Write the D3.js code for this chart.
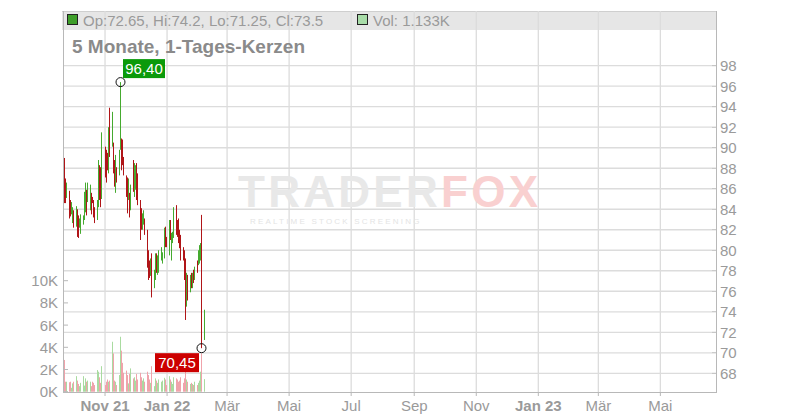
<!DOCTYPE html>
<html><head><meta charset="utf-8">
<script src="https://cdn.jsdelivr.net/npm/d3@7"></script>
<style>body{margin:0;background:#fff} svg{display:block;font-family:"Liberation Sans",Arial,sans-serif}</style>
</head><body><svg id="c" width="800" height="420"></svg>
<script>
// ---- data ----
const startDate = "2021-09-21", endDate = "2022-02-07"; // trading days (weekdays)
const open = [85.6,88.6,86.8,85.2,85.6,84.7,83.6,82.8,83.8,82.5,
 83.8,83.0,82.3,81.8,82.6,83.1,84.0,85.7,84.9,84.2,
 85.4,85.1,84.7,84.0,83.2,84.5,88.0,87.9,85.3,89.9,
 89.5,89.3,87.8,93.5,90.3,90.3,88.5,85.9,87.9,87.5,
 90.0,90.7,90.5,88.8,87.1,86.9,85.1,85.4,84.1,88.5,
 85.5,86.2,88.2,87.3,84.7,83.9,82.2,82.6,82.9,81.8,
 79.8,78.8,77.7,79.5,76.5,77.4,79.5,77.8,78.0,79.2,
 78.9,79.4,82.1,81.1,79.8,82.8,79.3,80.9,81.4,84.2,
 82.8,82.9,81.8,81.3,80.1,79.8,79.0,74.8,77.4,76.1,
 77.6,76.5,77.9,77.3,78.8,78.7,78.9,79.2,80.6,72.65];
const high = [88.3,89.0,87.0,86.6,85.8,84.9,84.7,84.2,83.9,84.3,
 84.0,83.4,83.1,83.5,83.4,85.7,86.6,85.9,86.6,86.4,
 85.6,85.2,84.9,84.2,84.9,88.8,88.3,88.1,91.5,90.1,
 89.8,89.5,92.0,93.9,93.5,90.5,88.8,89.3,88.1,89.8,
 96.4,90.9,90.8,89.1,87.3,87.1,87.0,85.6,86.4,88.8,
 88.5,88.3,88.5,87.5,84.9,84.1,83.6,83.9,83.1,82.0,
 80.0,79.0,79.2,79.7,78.1,79.7,79.7,79.5,80.0,80.3,
 79.8,82.2,82.3,81.3,82.95,82.95,81.7,81.8,84.2,84.4,
 82.95,83.1,82.0,81.5,80.3,80.0,79.2,77.8,77.6,77.6,
 77.8,77.8,78.1,78.4,79.0,80.0,80.5,80.7,83.45,74.2];
const low = [85.3,84.6,84.6,85.1,83.1,83.3,83.5,82.65,82.2,82.3,
 81.3,81.2,82.2,81.6,82.5,82.95,83.7,83.4,84.7,83.9,
 83.5,84.6,83.2,82.65,82.95,84.2,84.9,84.2,85.0,87.1,
 86.6,87.8,87.5,89.1,90.1,87.5,86.2,85.6,86.6,87.3,
 89.8,87.8,88.3,87.3,85.2,83.6,84.9,83.2,83.9,85.7,
 85.2,85.9,84.9,84.4,81.0,82.0,82.0,82.5,81.5,78.3,
 77.1,77.3,77.5,75.4,76.3,77.1,77.8,77.6,77.8,79.0,
 78.7,79.2,80.3,80.3,79.5,81.0,79.0,80.7,81.2,81.5,
 81.3,80.7,80.2,79.0,79.0,77.1,73.2,74.5,75.1,75.9,
 76.3,76.3,76.8,77.1,77.8,78.55,78.7,79.0,70.45,71.25];
const close = [87.9,85.2,84.9,86.3,83.4,83.5,84.5,84.1,82.4,84.0,
 81.6,81.5,83.0,83.3,83.3,85.5,86.2,83.8,86.4,86.0,
 83.8,84.7,83.4,82.9,84.7,88.3,85.2,84.6,91.0,87.4,
 86.9,88.0,91.7,89.4,93.2,87.8,86.5,89.0,86.8,89.5,
 91.0,88.1,88.5,87.5,85.4,84.0,86.8,83.5,86.1,86.0,
 88.2,88.0,85.2,84.7,81.4,82.3,83.4,83.7,81.7,78.6,
 77.4,77.5,79.0,75.8,77.9,79.4,78.0,79.3,79.8,80.1,
 79.6,81.9,80.5,80.5,82.7,81.2,81.4,81.6,84.0,81.8,
 81.5,81.0,80.5,79.3,79.2,77.4,73.6,77.5,75.4,77.4,
 76.5,77.6,77.0,78.2,78.0,79.8,80.3,80.5,72.2,73.5];
const volumeK = [1.66,2.86,0.9,0.9,0.85,0.9,0.35,0.75,0.9,1.4,
 1.0,0.7,0.5,0.8,1.4,0.55,1.2,0.9,1.0,0.9,
 0.5,0.9,0.8,0.6,1.95,1.8,1.3,0.8,2.3,0.6,
 0.9,1.1,0.9,1.0,4.5,3.45,1.0,0.9,0.6,1.5,
 4.95,3.7,2.6,1.7,1.9,1.5,0.75,1.6,2.1,1.2,
 1.3,1.0,1.6,1.1,1.7,1.3,1.0,1.2,0.9,1.8,
 1.5,1.1,0.8,2.3,0.5,1.2,1.0,0.8,1.1,0.9,
 1.0,1.25,1.1,0.6,1.4,1.1,0.9,0.7,1.3,1.2,
 1.1,0.9,1.0,1.3,0.8,1.2,2.0,1.1,0.9,0.7,
 0.8,0.7,0.6,0.9,0.6,0.8,1.0,1.8,3.45,1.133];
const priceTicks = [68,70,72,74,76,78,80,82,84,86,88,90,92,94,96,98];
const volTicks = [0,2,4,6,8,10];
const monthTicks = ["2021-11-01","2022-01-01","2022-03-01","2022-05-01","2022-07-01","2022-09-01","2022-11-01","2023-01-01","2023-03-01","2023-05-01"];
const monthNames = ["Jan","Feb","Mär","Apr","Mai","Jun","Jul","Aug","Sep","Okt","Nov","Dez"];
const subtitle = "5 Monate, 1-Tages-Kerzen";

// ---- layout ----
const plotL = 63, plotR = 716, plotT = 11, plotB = 392;
const C = {green:"#45aa2f", red:"#b01518", vgreen:"#a9dba0", vred:"#f0a3ab", grid:"#dcdcdc", axis:"#b8b8b8", text:"#9a9a9a"};

const parse = d3.utcParse("%Y-%m-%d");
const dates = d3.utcDay.range(parse(startDate), d3.utcDay.offset(parse(endDate), 1))
  .filter(d => d.getUTCDay() !== 0 && d.getUTCDay() !== 6);
const data = dates.map((d, i) => ({date: d, o: open[i], h: high[i], l: low[i], c: close[i], v: volumeK[i]}));

const x = d3.scaleUtc().domain([parse("2021-09-20"), parse("2023-06-24")]).range([plotL - 0.7, plotR - 0.7]);
const y = d3.scaleLinear().domain([68, 98]).range([373.3, 65.7]);
const yv = d3.scaleLinear().domain([0, 10]).range([391.7, 280.7]);
const px = d => Math.floor(x(d)) + 0.5;

const svg = d3.select("#c");
svg.append("rect").attr("width", 800).attr("height", 420).attr("fill", "#fff");

// legend band
svg.append("rect").attr("x", plotL - 1).attr("y", plotT).attr("width", plotR - plotL + 1).attr("height", 19).attr("fill", "#e6e6e6");
svg.append("line").attr("x1", plotL - 1).attr("x2", plotR).attr("y1", plotT + 0.5).attr("y2", plotT + 0.5).attr("stroke", "#cfcfcf");

// grid
const tickDates = monthTicks.map(parse);
svg.append("g").selectAll("line").data(tickDates).join("line")
  .attr("x1", d => x(d)).attr("x2", d => x(d)).attr("y1", plotT).attr("y2", plotB)
  .attr("stroke", C.grid).attr("stroke-width", 1.3);
svg.append("g").selectAll("line").data(priceTicks).join("line")
  .attr("x1", plotL).attr("x2", plotR - 4).attr("y1", d => y(d)).attr("y2", d => y(d))
  .attr("stroke", C.grid).attr("stroke-width", 1.3);

// watermark
const wm = svg.append("g");
const wt = wm.append("text").attr("x", 238).attr("y", 207).attr("font-size", 44).attr("font-weight", "bold")
  .attr("textLength", 300).attr("lengthAdjust", "spacing");
wt.append("tspan").attr("fill", "#e8e8e8").text("TRADER");
wt.append("tspan").attr("fill", "#f9d0d0").text("FOX");
wm.append("text").attr("x", 250).attr("y", 224).attr("font-size", 8).attr("letter-spacing", 2.2).attr("fill", "#e4e4e4").text("REALTIME STOCK SCREENING");

// legend texts
const last = data[data.length - 1];
svg.append("rect").attr("x", 67.5).attr("y", 14.5).attr("width", 10).attr("height", 10).attr("fill", "#3e9e2a").attr("stroke", "#222");
svg.append("text").attr("x", 83).attr("y", 26).attr("font-size", 15).attr("fill", C.text)
  .text(`Op:${last.o}, Hi:${last.h}, Lo:${last.l}, Cl:${last.c}`);
svg.append("rect").attr("x", 357.5).attr("y", 14.5).attr("width", 10).attr("height", 10).attr("fill", "#a8dca8").attr("stroke", "#222");
svg.append("text").attr("x", 373).attr("y", 26).attr("font-size", 15).attr("fill", C.text)
  .text(`Vol: ${last.v}K`);
svg.append("text").attr("x", 72).attr("y", 53).attr("font-size", 19).attr("font-weight", "bold").attr("fill", "#8a8a8a").text(subtitle);

// volume bars
svg.append("g").selectAll("rect").data(data).join("rect")
  .attr("x", d => Math.floor(x(d.date))).attr("width", 1)
  .attr("y", d => yv(d.v)).attr("height", d => yv(0) - yv(d.v))
  .attr("fill", d => d.c >= d.o ? C.vgreen : C.vred);

// candles
const cg = svg.append("g");
cg.selectAll("line").data(data).join("line")
  .attr("x1", d => px(d.date)).attr("x2", d => px(d.date))
  .attr("y1", d => y(d.h)).attr("y2", d => y(d.l))
  .attr("stroke", d => d.c >= d.o ? C.green : C.red).attr("stroke-width", 1);
cg.selectAll("rect").data(data).join("rect")
  .attr("x", d => px(d.date) - 0.5).attr("width", 1)
  .attr("y", d => y(Math.max(d.o, d.c))).attr("height", d => Math.max(1, y(Math.min(d.o, d.c)) - y(Math.max(d.o, d.c))))
  .attr("fill", d => d.c >= d.o ? C.green : C.red);

// axes lines
svg.append("line").attr("x1", plotL + 0.5).attr("x2", plotL + 0.5).attr("y1", plotT).attr("y2", plotB).attr("stroke", C.axis);
svg.append("line").attr("x1", plotR + 0.5).attr("x2", plotR + 0.5).attr("y1", plotT).attr("y2", plotB + 0.5).attr("stroke", C.axis);
svg.append("line").attr("x1", plotL).attr("x2", plotR + 1).attr("y1", plotB + 0.5).attr("y2", plotB + 0.5).attr("stroke", C.axis);

// right price axis
const ra = svg.append("g");
ra.selectAll("line").data(priceTicks).join("line")
  .attr("x1", plotR - 4).attr("x2", plotR).attr("y1", d => y(d)).attr("y2", d => y(d)).attr("stroke", C.axis);
ra.selectAll("text").data(priceTicks).join("text")
  .attr("x", plotR + 4).attr("y", d => y(d)).attr("dy", "0.36em").attr("font-size", 15).attr("fill", C.text).text(d => d);

// left volume axis
const la = svg.append("g");
la.selectAll("line").data(volTicks).join("line")
  .attr("x1", plotL).attr("x2", plotL + 5).attr("y1", d => yv(d)).attr("y2", d => yv(d)).attr("stroke", C.axis);
la.selectAll("text").data(volTicks).join("text")
  .attr("x", plotL - 5).attr("y", d => yv(d)).attr("dy", "0.36em").attr("text-anchor", "end")
  .attr("font-size", 15).attr("fill", C.text).text(d => d + "K");

// bottom time axis
const ba = svg.append("g");
ba.selectAll("line").data(tickDates).join("line")
  .attr("x1", d => x(d)).attr("x2", d => x(d)).attr("y1", plotB).attr("y2", plotB + 4).attr("stroke", C.axis);
ba.selectAll("text").data(tickDates).join("text")
  .attr("x", d => x(d)).attr("y", 411).attr("text-anchor", "middle").attr("font-size", 15)
  .attr("font-weight", (d, i) => (i === 0 || d.getUTCMonth() === 0) ? "bold" : "normal")
  .attr("fill", C.text)
  .text((d, i) => {
    const m = monthNames[d.getUTCMonth()];
    return (i === 0 || d.getUTCMonth() === 0) ? `${m} ${String(d.getUTCFullYear()).slice(2)}` : m;
  });

// extreme markers
const fmt = v => v.toFixed(2).replace(".", ",");
const maxD = data[d3.maxIndex(data, d => d.h)];
const minD = data[d3.minIndex(data, d => d.l)];
const mk = svg.append("g");
function marker(d, val, color, dx, dy, w) {
  const cx = px(d.date), cy = y(val);
  mk.append("rect").attr("x", cx + dx).attr("y", cy + dy).attr("width", w).attr("height", 19).attr("fill", color);
  mk.append("text").attr("x", cx + dx + w / 2).attr("y", cy + dy + 15).attr("text-anchor", "middle")
    .attr("font-size", 15).attr("fill", "#fff").text(fmt(val));
  mk.append("circle").attr("cx", cx).attr("cy", cy).attr("r", 4.5).attr("fill", "none").attr("stroke", "#111");
}
marker(maxD, maxD.h, "#0a9a0a", 2.5, -23, 42);
marker(minD, minD.l, "#cc0000", -46.5, 5, 44);
</script></body></html>
